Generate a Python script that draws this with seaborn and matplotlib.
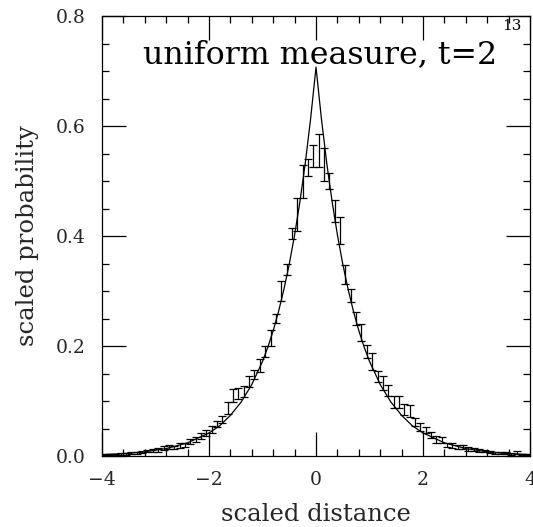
import numpy as np
import pandas as pd
import matplotlib
matplotlib.use("Agg")
import matplotlib.pyplot as plt
from matplotlib.ticker import MultipleLocator, FixedLocator
import seaborn as sns

# ---- data ----
# theoretical curve (x, y)
curve_x = [-4.0, -3.6, -3.2, -2.8, -2.4, -2.0, -1.8, -1.6, -1.4, -1.2, -1.0,
           -0.9, -0.8, -0.7, -0.6, -0.5, -0.4, -0.3, -0.2, -0.1, 0.0,
           0.1, 0.2, 0.3, 0.4, 0.5, 0.6, 0.7, 0.8, 0.9, 1.0,
           1.2, 1.4, 1.6, 1.8, 2.0, 2.4, 2.8, 3.2, 3.6, 4.0]
curve_y = [0.0025, 0.0043, 0.0077, 0.0135, 0.024, 0.042, 0.055, 0.074, 0.098, 0.130, 0.172,
           0.198, 0.228, 0.263, 0.303, 0.349, 0.402, 0.463, 0.533, 0.614, 0.707,
           0.614, 0.533, 0.463, 0.402, 0.349, 0.303, 0.263, 0.228, 0.198, 0.172,
           0.130, 0.098, 0.074, 0.055, 0.042, 0.024, 0.0135, 0.0077, 0.0043, 0.0025]

# measured histogram points with error bars
bin_x = [-3.95, -3.85, -3.75, -3.65, -3.55, -3.45, -3.35, -3.25, -3.15, -3.05,
         -2.95, -2.85, -2.75, -2.65, -2.55, -2.45, -2.35, -2.25, -2.15, -2.05,
         -1.95, -1.85, -1.75, -1.65, -1.55, -1.45, -1.35, -1.25, -1.15, -1.05,
         -0.95, -0.85, -0.75, -0.65, -0.55, -0.45, -0.35, -0.25, -0.15, -0.05,
         0.05, 0.15, 0.25, 0.35, 0.45, 0.55, 0.65, 0.75, 0.85, 0.95,
         1.05, 1.15, 1.25, 1.35, 1.45, 1.55, 1.65, 1.75, 1.85, 1.95,
         2.05, 2.15, 2.25, 2.35, 2.45, 2.55, 2.65, 2.75, 2.85, 2.95,
         3.05, 3.15, 3.25, 3.35, 3.45, 3.55, 3.65, 3.75, 3.85, 3.95]
bin_y = [0.002, 0.003, 0.003, 0.004, 0.004, 0.006, 0.006, 0.007, 0.009, 0.010,
         0.011, 0.015, 0.016, 0.016, 0.019, 0.020, 0.026, 0.030, 0.036, 0.042,
         0.048, 0.058, 0.066, 0.088, 0.110, 0.113, 0.118, 0.135, 0.148, 0.165,
         0.190, 0.215, 0.250, 0.300, 0.340, 0.405, 0.440, 0.500, 0.525, 0.545,
         0.555, 0.530, 0.500, 0.445, 0.410, 0.330, 0.292, 0.250, 0.225, 0.190,
         0.172, 0.145, 0.133, 0.120, 0.098, 0.098, 0.085, 0.082, 0.062, 0.053,
         0.047, 0.038, 0.030, 0.029, 0.020, 0.019, 0.016, 0.016, 0.013, 0.012,
         0.010, 0.009, 0.007, 0.006, 0.006, 0.005, 0.004, 0.006, 0.003, 0.002]
bin_err = [0.001, 0.001, 0.001, 0.002, 0.002, 0.002, 0.002, 0.002, 0.002, 0.003,
           0.003, 0.004, 0.004, 0.003, 0.004, 0.004, 0.005, 0.005, 0.005, 0.006,
           0.006, 0.005, 0.006, 0.011, 0.011, 0.010, 0.010, 0.010, 0.008, 0.012,
           0.010, 0.015, 0.008, 0.018, 0.010, 0.010, 0.030, 0.030, 0.015, 0.020,
           0.030, 0.030, 0.015, 0.020, 0.025, 0.018, 0.012, 0.012, 0.015, 0.012,
           0.016, 0.010, 0.013, 0.010, 0.011, 0.011, 0.010, 0.011, 0.008, 0.007,
           0.006, 0.005, 0.006, 0.006, 0.004, 0.004, 0.004, 0.004, 0.003, 0.003,
           0.003, 0.002, 0.002, 0.002, 0.002, 0.002, 0.002, 0.003, 0.001, 0.001]

x_ticks = [-4, -2, 0, 2, 4]
y_ticks = [0.0, 0.2, 0.4, 0.6, 0.8]

# ---- styling ----
sns.set_style("ticks")
plt.rcParams['font.family'] = ['DejaVu Serif']

fig = plt.figure(figsize=(5.33, 5.27), dpi=100)
ax = fig.add_axes([0.1914, 0.1347, 0.8030, 0.8349])

curve_df = pd.DataFrame({"x": curve_x, "y": curve_y})
sns.lineplot(data=curve_df, x="x", y="y", ax=ax, color="black", lw=0.9,
             sort=False, estimator=None)

ax.errorbar(bin_x, bin_y, yerr=bin_err, fmt="none", ecolor="black",
            elinewidth=0.9, capsize=2.8, capthick=0.9)

ax.set_xlim(-4, 4)
ax.set_ylim(0, 0.8)
ax.xaxis.set_major_locator(FixedLocator(x_ticks))
ax.yaxis.set_major_locator(FixedLocator(y_ticks))
ax.xaxis.set_minor_locator(MultipleLocator(0.4))
ax.yaxis.set_minor_locator(MultipleLocator(0.05))
ax.set_yticklabels([f"{v:.1f}" for v in y_ticks])

ax.tick_params(which="both", direction="in", top=True, right=True,
               width=0.9, color="black", labelsize=13.5)
ax.tick_params(which="major", length=17)
ax.tick_params(which="minor", length=5)
ax.tick_params(axis="y", which="major", pad=12)
ax.tick_params(axis="x", which="major", pad=11)

for s in ax.spines.values():
    s.set_linewidth(0.9)
    s.set_color("black")

ax.set_xlabel("scaled distance", fontsize=17.5, labelpad=10)
ax.set_ylabel("scaled probability", fontsize=17.5, labelpad=12)

ax.text(0.096, 0.912, "uniform measure, t=2", transform=ax.transAxes,
        fontsize=22.8, ha="left", va="center", color="black")
ax.text(0.935, 0.977, "13", transform=ax.transAxes,
        fontsize=11, ha="left", va="center", color="black")

fig.savefig("out.png", dpi=100)
